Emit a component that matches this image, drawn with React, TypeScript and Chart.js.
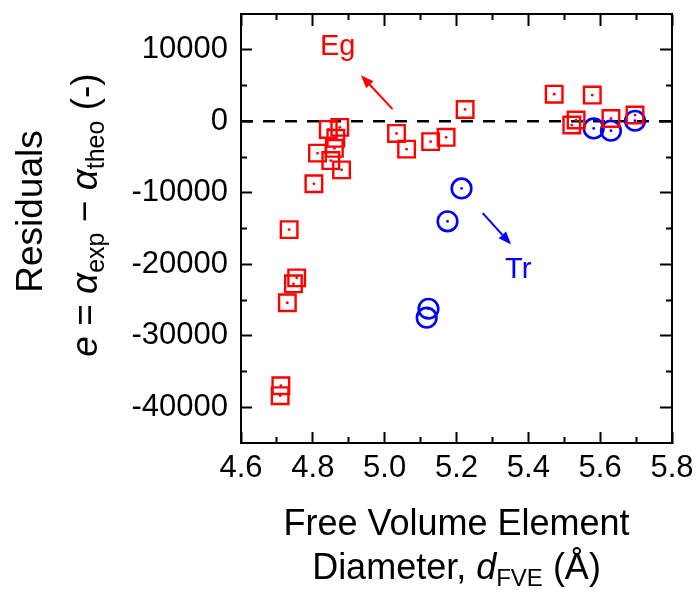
import React, { useEffect, useRef } from 'react';
import { Chart, registerables } from 'chart.js';

Chart.register(...registerables);

// ---- data ----
const egX = [4.709, 4.711, 4.729, 4.746, 4.755, 4.734, 4.803, 4.813, 4.843, 4.875, 4.864, 4.860, 4.850, 4.880, 5.033, 5.061, 5.128, 5.171, 5.224, 5.472, 5.578, 5.533, 5.521, 5.630, 5.697];
const egY = [-38380, -36990, -25380, -22730, -21900, -15150, -8740, -4450, -1130, -850, -2380, -3780, -5490, -6790, -1690, -3890, -2840, -2240, 1660, 3800, 3670, 180, -520, 400, 880];
const trX = [5.122, 5.117, 5.175, 5.214, 5.582, 5.630, 5.697];
const trY = [-26220, -27470, -13990, -9390, -990, -1310, 80];

const xMajorTicks = [4.6, 4.8, 5.0, 5.2, 5.4, 5.6, 5.8];
const xMinorTicks = [4.7, 4.9, 5.1, 5.3, 5.5, 5.7];
const yMajorTicks = [-40000, -30000, -20000, -10000, 0, 10000];
const yMinorTicks = [-35000, -25000, -15000, -5000, 5000];
const xRange = [4.6, 5.8];
const yRange = [-45000, 15000];

const annotationLabels = ['Eg', 'Tr'];
const annotationX = [4.82, 5.335];
const annotationY = [9240, -21980];
const arrowFromX = [5.022, 5.273];
const arrowFromY = [1710, -12840];
const arrowToX = [4.934, 5.352];
const arrowToY = [6450, -17240];

const RED = '#ff0000';
const BLUE = '#0000ff';
const FONT = '"Liberation Sans", Arial, sans-serif';

type Seg = { t: string; it?: boolean; sub?: boolean };

function segFont(s: Seg, size: number) {
  const sz = s.sub ? Math.round(size * 0.68) : size;
  return `${s.it ? 'italic ' : ''}${sz}px ${FONT}`;
}

function drawRich(ctx: CanvasRenderingContext2D, segs: Seg[], cx: number, baseY: number, size: number) {
  let total = 0;
  for (const s of segs) {
    ctx.font = segFont(s, size);
    total += ctx.measureText(s.t).width;
  }
  let x = cx - total / 2;
  ctx.textAlign = 'left';
  ctx.textBaseline = 'alphabetic';
  for (const s of segs) {
    ctx.font = segFont(s, size);
    ctx.fillText(s.t, x, baseY + (s.sub ? size * 0.2 : 0));
    x += ctx.measureText(s.t).width;
  }
}

function drawArrow(ctx: CanvasRenderingContext2D, x1: number, y1: number, x2: number, y2: number, color: string) {
  const ang = Math.atan2(y2 - y1, x2 - x1);
  const hl = 13;
  const hw = 5;
  const bx = x2 - hl * Math.cos(ang);
  const by = y2 - hl * Math.sin(ang);
  ctx.strokeStyle = color;
  ctx.fillStyle = color;
  ctx.lineWidth = 2;
  ctx.beginPath();
  ctx.moveTo(x1, y1);
  ctx.lineTo(bx, by);
  ctx.stroke();
  ctx.beginPath();
  ctx.moveTo(x2, y2);
  ctx.lineTo(bx + hw * Math.sin(ang), by - hw * Math.cos(ang));
  ctx.lineTo(bx - hw * Math.sin(ang), by + hw * Math.cos(ang));
  ctx.closePath();
  ctx.fill();
}

const textPlugin = {
  id: 'textPlugin',
  afterDraw(chart: any) {
    const ctx: CanvasRenderingContext2D = chart.ctx;
    const xs = chart.scales.x;
    const ys = chart.scales.y;
    ctx.save();
    ctx.fillStyle = '#000';
    // y title
    ctx.save();
    ctx.translate(41.5, 211.5);
    ctx.rotate(-Math.PI / 2);
    drawRich(ctx, [{ t: 'Residuals' }], 0, 0, 37);
    ctx.restore();
    ctx.save();
    ctx.translate(96.5, 215);
    ctx.rotate(-Math.PI / 2);
    drawRich(ctx, [
      { t: 'e', it: true },
      { t: ' = ' },
      { t: 'α', it: true },
      { t: 'exp', sub: true },
      { t: ' − ' },
      { t: 'α', it: true },
      { t: 'theo', sub: true },
      { t: ' (-)' },
    ], 0, 0, 37);
    ctx.restore();
    // x title
    drawRich(ctx, [{ t: 'Free Volume Element' }], 456.5, 535, 36);
    drawRich(ctx, [
      { t: 'Diameter, ' },
      { t: 'd', it: true },
      { t: 'FVE', sub: true },
      { t: ' (Å)' },
    ], 456.5, 579, 36);
    // annotations
    const colors = [RED, BLUE];
    for (let i = 0; i < annotationLabels.length; i++) {
      ctx.fillStyle = colors[i];
      ctx.font = `29px ${FONT}`;
      ctx.textAlign = 'left';
      ctx.textBaseline = 'alphabetic';
      ctx.fillText(annotationLabels[i], xs.getPixelForValue(annotationX[i]), ys.getPixelForValue(annotationY[i]));
      drawArrow(ctx,
        xs.getPixelForValue(arrowFromX[i]), ys.getPixelForValue(arrowFromY[i]),
        xs.getPixelForValue(arrowToX[i]), ys.getPixelForValue(arrowToY[i]), colors[i]);
    }
    ctx.restore();
  },
};

function zeroPad(s: any) {
  s.paddingLeft = 0; s.paddingRight = 0; s.paddingTop = 0; s.paddingBottom = 0;
}
const setTicks = (vals: number[]) => (s: any) => { s.ticks = vals.map((v) => ({ value: v })); };

function tickAxis(axis: 'x' | 'y', pos: any, vals: number[], len: number, border: boolean) {
  return {
    type: 'linear',
    axis,
    position: pos,
    min: axis === 'x' ? xRange[0] : yRange[0],
    max: axis === 'x' ? xRange[1] : yRange[1],
    afterBuildTicks: setTicks(vals),
    afterFit: (s: any) => { s.width = 0; s.height = 0; zeroPad(s); },
    grid: { display: true, drawOnChartArea: false, drawTicks: true, tickLength: len, tickWidth: 2, tickColor: '#000' },
    border: { display: border, color: '#000', width: 2 },
    ticks: { display: false },
  };
}

export default function App() {
  const ref = useRef<HTMLCanvasElement>(null);
  useEffect(() => {
    if (!ref.current) return;
    const eg = egX.map((x, i) => ({ x, y: egY[i] }));
    const tr = trX.map((x, i) => ({ x, y: trY[i] }));
    const chart = new Chart(ref.current, {
      type: 'scatter',
      data: {
        datasets: [
          { label: 'Eg centers', data: eg, pointStyle: 'circle', pointRadius: 1.4, backgroundColor: RED, borderWidth: 0, order: 1 } as any,
          { label: 'Tr centers', data: tr, pointStyle: 'circle', pointRadius: 1.4, backgroundColor: BLUE, borderWidth: 0, order: 1 } as any,
          { label: 'Eg', data: eg, pointStyle: 'rect', pointRadius: 11.7, borderColor: RED, borderWidth: 2.4, backgroundColor: 'rgba(0,0,0,0)', order: 2 } as any,
          { label: 'Tr', data: tr, pointStyle: 'circle', pointRadius: 9.8, borderColor: BLUE, borderWidth: 2.6, backgroundColor: 'rgba(0,0,0,0)', order: 2 } as any,
          { type: 'line', label: 'zero', data: [{ x: xRange[0], y: 0 }, { x: xRange[1], y: 0 }], borderColor: '#000', borderWidth: 2.5, borderDash: [12, 10], pointRadius: 0, showLine: true, order: 5 } as any,
        ],
      },
      options: {
        responsive: false,
        devicePixelRatio: 1,
        animation: false,
        layout: { padding: { top: 12, right: 24, left: 0, bottom: 0 } },
        plugins: { legend: { display: false }, tooltip: { enabled: false } },
        elements: { point: { hoverRadius: 0 } as any },
        scales: {
          x: {
            type: 'linear', position: 'bottom', min: xRange[0], max: xRange[1],
            afterBuildTicks: setTicks(xMajorTicks),
            afterFit: (s: any) => { s.height = 149; zeroPad(s); },
            grid: { display: true, drawOnChartArea: false, drawTicks: true, tickLength: -11, tickWidth: 2, tickColor: '#000' },
            border: { display: true, color: '#000', width: 2 },
            ticks: { font: { family: FONT, size: 31 }, color: '#000', padding: 18, maxRotation: 0, autoSkip: false, callback: (v: any) => Number(v).toFixed(1) },
          },
          y: {
            type: 'linear', position: 'left', min: yRange[0], max: yRange[1],
            afterBuildTicks: setTicks(yMajorTicks),
            afterFit: (s: any) => { s.width = 241; zeroPad(s); },
            grid: { display: true, drawOnChartArea: false, drawTicks: true, tickLength: -11, tickWidth: 2, tickColor: '#000' },
            border: { display: true, color: '#000', width: 2 },
            ticks: { font: { family: FONT, size: 31 }, color: '#000', padding: 24, autoSkip: false, callback: (v: any) => String(v) },
          },
          xMinB: tickAxis('x', { y: yRange[0] }, xMinorTicks, -6, false),
          xTop: tickAxis('x', { y: yRange[1] }, xMajorTicks, 11, true),
          xMinT: tickAxis('x', { y: yRange[1] }, xMinorTicks, 6, false),
          yMinL: tickAxis('y', { x: xRange[0] }, yMinorTicks, -6, false),
          yR: tickAxis('y', { x: xRange[1] }, yMajorTicks, 11, true),
          yMinR: tickAxis('y', { x: xRange[1] }, yMinorTicks, 6, false),
        } as any,
      },
      plugins: [textPlugin],
    });
    return () => chart.destroy();
  }, []);
  return (
    <div style={{ position: 'absolute', left: 0, top: 0, width: 696, height: 592, background: '#fff' }}>
      <canvas ref={ref} width={696} height={592} style={{ display: 'block' }} />
    </div>
  );
}
